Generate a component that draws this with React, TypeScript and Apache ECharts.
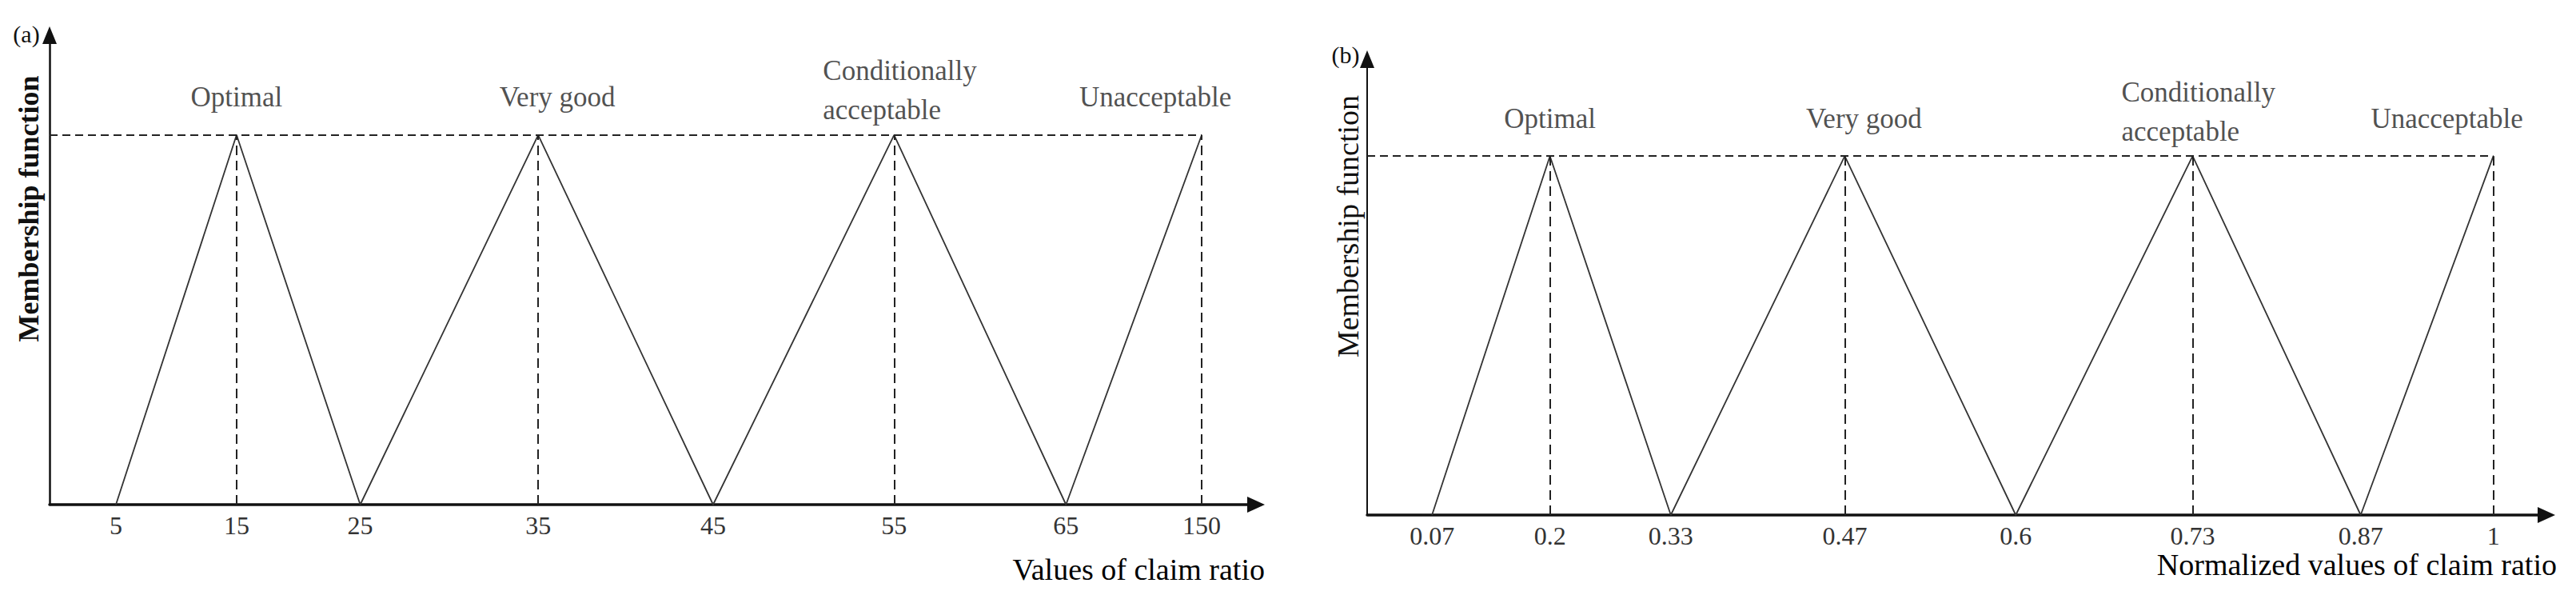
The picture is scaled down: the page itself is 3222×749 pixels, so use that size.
import React, { useEffect, useRef } from "react";
import * as echarts from "echarts";

// schematic (non-linear) positions of the breakpoints along both x axes
const breakPositions = [1.1, 3.1, 5.15, 8.1, 11.0, 14.0, 16.85, 19.1];
const claimRatioLabels = ["5", "15", "25", "35", "45", "55", "65", "150"];
const normalizedLabels = ["0.07", "0.2", "0.33", "0.47", "0.6", "0.73", "0.87", "1"];
const membershipValues = [0, 1, 0, 1, 0, 1, 0, 1];
const termNames = ["Optimal", "Very good", "Conditionally\nacceptable", "Unacceptable"];
const axisEnd = 20;
const membershipMax = 1.27;
const peakMembership = 1;

const SERIF = "'Liberation Serif', 'DejaVu Serif', serif";

export default function App() {
  const ref = useRef<HTMLDivElement>(null);

  useEffect(() => {
    const chart = echarts.init(ref.current!, null, { renderer: "svg" });

    const peaks = breakPositions.filter((_, i) => membershipValues[i] === peakMembership);
    const labelStyles = [
      { offset: [0, 0], distance: 22, align: "center" },
      { offset: [24, 0], distance: 22, align: "center" },
      { offset: [-89, 0], distance: 6, align: "left" },
      { offset: [-58, 0], distance: 22, align: "center" },
    ];
    const fmt = (labels: string[]) => (v: number) => {
      const i = breakPositions.findIndex((p) => Math.abs(p - v) < 1e-6);
      return i >= 0 ? labels[i] : "";
    };

    const panels = [
      { labels: claimRatioLabels, yWidth: 2.5, grid: { left: 62, top: 44, width: 1509, height: 587 } },
      { labels: normalizedLabels, yWidth: 2, grid: { left: 1710, top: 74, width: 1475, height: 570 } },
    ];

    const grid = panels.map((p) => ({ ...p.grid, containLabel: false }));
    const xAxis = panels.map((p, idx) => ({
      type: "value",
      gridIndex: idx,
      min: 0,
      max: axisEnd,
      axisLine: {
        show: true,
        onZero: true,
        symbol: ["none", "triangle"],
        symbolSize: [20, 22],
        lineStyle: { color: "#111", width: 3.5 },
      },
      axisTick: { show: false },
      splitLine: { show: false },
      axisLabel: {
        customValues: breakPositions,
        formatter: fmt(p.labels),
        margin: 10,
        fontSize: 32,
        fontFamily: SERIF,
        color: "#333",
      },
    }));
    const yAxis = panels.map((p, idx) => ({
      type: "value",
      gridIndex: idx,
      min: 0,
      max: membershipMax,
      axisLine: {
        show: true,
        symbol: ["none", "triangle"],
        symbolSize: [18, 22],
        lineStyle: { color: "#111", width: p.yWidth },
      },
      axisTick: { show: false },
      splitLine: { show: false },
      axisLabel: { show: false },
    }));

    const series: any[] = [];
    panels.forEach((p, idx) => {
      series.push({
        type: "line",
        xAxisIndex: idx,
        yAxisIndex: idx,
        data: breakPositions.map((x, i) => [x, membershipValues[i]]),
        symbol: "none",
        lineStyle: { color: "#333", width: 1.8 },
        z: 3,
        markLine: {
          silent: true,
          symbol: ["none", "none"],
          label: { show: false },
          lineStyle: { color: "#222", width: 2, type: [12, 7] },
          data: [
            ...peaks.map((x) => [{ coord: [x, 0] }, { coord: [x, peakMembership] }]),
            [
              { coord: [0, peakMembership], lineStyle: { color: "#222", width: 2, type: [10, 6] } },
              { coord: [peaks[peaks.length - 1], peakMembership] },
            ],
          ],
        },
      });
      series.push({
        type: "scatter",
        xAxisIndex: idx,
        yAxisIndex: idx,
        symbolSize: 1,
        itemStyle: { color: "transparent" },
        silent: true,
        data: peaks.map((x, k) => ({
          value: [x, peakMembership],
          name: termNames[k],
          label: {
            show: true,
            position: "top",
            formatter: termNames[k],
            offset: labelStyles[k].offset,
            distance: labelStyles[k].distance,
            align: labelStyles[k].align,
            fontSize: 35,
            lineHeight: 49,
            fontFamily: SERIF,
            color: "#222",
          },
        })),
      });
    });

    chart.setOption({
      animation: false,
      backgroundColor: "#ffffff",
      grid,
      xAxis,
      yAxis,
      series,
      graphic: [
        { type: "text", x: 33, y: 42, style: { text: "(a)", font: `30px ${SERIF}`, fill: "#111", align: "center", verticalAlign: "middle" } },
        { type: "text", x: 1683, y: 68, style: { text: "(b)", font: `30px ${SERIF}`, fill: "#111", align: "center", verticalAlign: "middle" } },
        { type: "text", x: 36, y: 261, rotation: Math.PI / 2, style: { text: "Membership function", font: `bold 36px ${SERIF}`, fill: "#111", align: "center", verticalAlign: "middle" } },
        { type: "text", x: 1686, y: 283, rotation: Math.PI / 2, style: { text: "Membership function", font: `38px ${SERIF}`, fill: "#111", align: "center", verticalAlign: "middle" } },
        { type: "text", x: 1582, y: 712, style: { text: "Values of claim ratio", font: `38px ${SERIF}`, fill: "#000", align: "right", verticalAlign: "middle" } },
        { type: "text", x: 3198, y: 706, style: { text: "Normalized values of claim ratio", font: `38px ${SERIF}`, fill: "#000", align: "right", verticalAlign: "middle" } },
      ],
    });

    return () => chart.dispose();
  }, []);

  return (
    <div
      ref={ref}
      style={{ position: "absolute", left: 0, top: 0, width: 3222, height: 749, background: "#fff" }}
    />
  );
}
